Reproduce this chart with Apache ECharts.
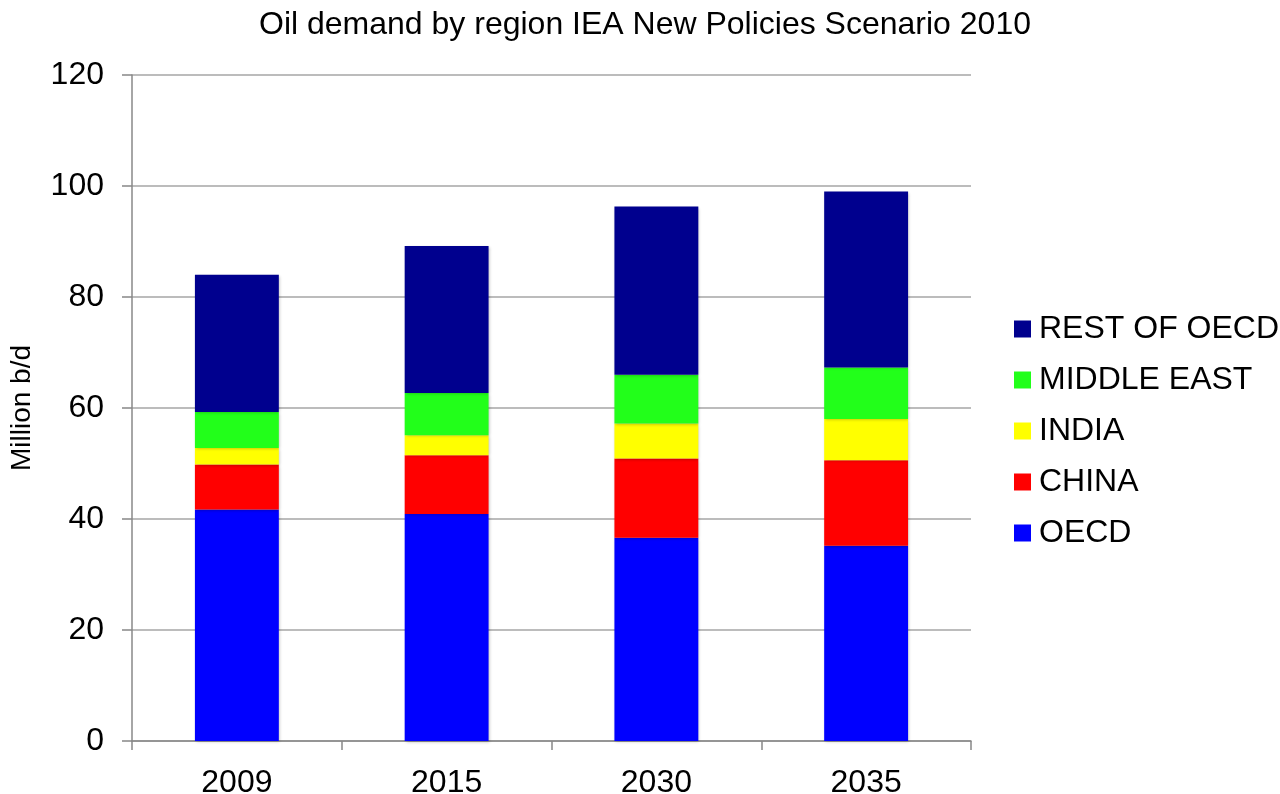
<!DOCTYPE html>
<html>
<head>
<meta charset="utf-8">
<script src="https://cdn.jsdelivr.net/npm/echarts@6/dist/echarts.min.js"></script>
<style>html,body{margin:0;padding:0;background:#fff;}#c{width:1280px;height:794px;}</style>
</head>
<body>
<div id="c"></div>
<script>
var categories = ['2009', '2015', '2030', '2035'];
var oecd = [41.7, 40.9, 36.6, 35.2];
var china = [8.1, 10.6, 14.3, 15.4];
var india = [3.0, 3.6, 6.3, 7.4];
var middleEast = [6.5, 7.6, 8.8, 9.3];
var restOfOecd = [24.7, 26.5, 30.3, 31.7];
var seriesNames = ['OECD', 'CHINA', 'INDIA', 'MIDDLE EAST', 'REST OF OECD'];
var seriesColors = ['#0000FF', '#FF0000', '#FFFF00', '#22FF1A', '#00008E'];
var seriesData = [oecd, china, india, middleEast, restOfOecd];

var font = 'Liberation Sans, Arial, sans-serif';
var chart = echarts.init(document.getElementById('c'));
var series = seriesNames.map(function (n, i) {
  return {
    name: n, type: 'bar', stack: 'total', data: seriesData[i],
    barWidth: '40%',
    itemStyle: { color: seriesColors[i], shadowBlur: 3, shadowColor: 'rgba(0,0,0,0.25)', shadowOffsetX: 1, shadowOffsetY: 1 }
  };
});
chart.setOption({
  animation: false,
  backgroundColor: '#fff',
  title: {
    text: 'Oil demand by region IEA New Policies Scenario 2010',
    left: 640, top: 4, textAlign: 'center',
    textStyle: { fontFamily: font, fontSize: 32, fontWeight: 'normal', color: '#000' }
  },
  legend: {
    orient: 'vertical', left: 1014, top: 313, padding: 0,
    data: seriesNames.slice().reverse(),
    itemWidth: 17, itemHeight: 17, itemGap: 19,
    icon: 'rect',
    textStyle: { fontFamily: font, fontSize: 32, color: '#000', padding: [0, 0, 0, 3] }
  },
  grid: { left: 132, right: 309, top: 75, bottom: 53, containLabel: false, outerBoundsMode: 'none' },
  xAxis: {
    type: 'category', data: categories,
    axisLine: { lineStyle: { color: '#888', width: 1.5 } },
    axisTick: { show: true, length: 9, lineStyle: { color: '#888', width: 1.5 } },
    axisLabel: { fontFamily: font, fontSize: 32, color: '#000', margin: 26 }
  },
  yAxis: {
    type: 'value', min: 0, max: 120, interval: 20,
    name: 'Million b/d', nameLocation: 'middle', nameGap: 96,
    nameTextStyle: { fontFamily: font, fontSize: 28, color: '#000' },
    axisLine: { show: true, lineStyle: { color: '#888', width: 1.5 } },
    axisTick: { show: true, length: 10, lineStyle: { color: '#888', width: 1.5 } },
    axisLabel: { fontFamily: font, fontSize: 32, color: '#000', margin: 28 },
    splitLine: { lineStyle: { color: '#a6a6a6', width: 1.5 } }
  },
  series: series
});
</script>
</body>
</html>
